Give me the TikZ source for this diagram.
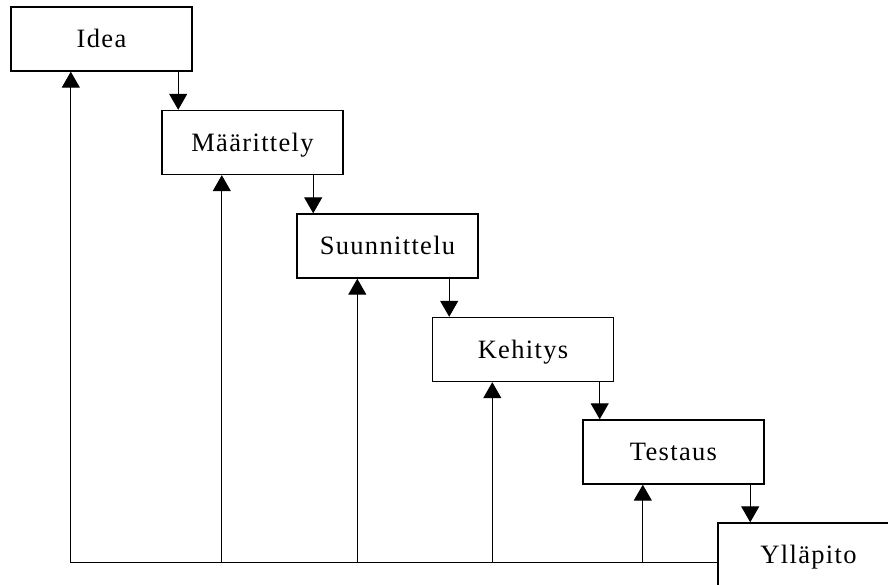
\documentclass[tikz,border=0pt]{standalone}
\usepackage{fontspec}
\setmainfont{Liberation Serif}[LetterSpace=5]
\usetikzlibrary{arrows.meta}
\tikzset{
  phase/.style={draw, line width=1.4pt, rectangle, inner sep=0pt,
    minimum width=181pt, minimum height=64pt,
    font=\fontsize{26.5}{30}\selectfont, text height=17.5pt, text depth=-3pt},
  flow/.style={line width=1.2pt, -{Triangle[width=18pt,length=16pt]}},
  back/.style={line width=1.2pt}
}
\begin{document}
\begin{tikzpicture}[x=1pt,y=-1pt]
\clip (0,0) rectangle (888,585);
\useasboundingbox (0,0) rectangle (888,585);

% phases of the cycle
\node[phase] (idea) at (101.5,39)  {Idea};
\node[phase] (maar) at (252.5,142.5) {Määrittely};
\node[phase] (suun) at (387.5,246) {Suunnittelu};
\node[phase] (kehi) at (523,349.5) {Kehitys};
\node[phase] (test) at (673.5,452) {Testaus};
\node[phase] (yllp) at (808.5,555) {Ylläpito};

% downward flow between consecutive phases
\draw[flow] ([xshift=-14.5pt]idea.south east) coordinate (d1) -- (d1 |- maar.north);
\draw[flow] ([xshift=-30.5pt]maar.south east) coordinate (d2) -- (d2 |- suun.north);
\draw[flow] ([xshift=-29.5pt]suun.south east) coordinate (d3) -- (d3 |- kehi.north);
\draw[flow] ([xshift=-14.5pt]kehi.south east) coordinate (d4) -- (d4 |- test.north);
\draw[flow] ([xshift=-14.5pt]test.south east) coordinate (d5) -- (d5 |- yllp.north);

% feedback line along the bottom
\coordinate (base) at (0,562.5);
\coordinate (u1) at ([xshift=60.5pt]idea.south west);
\coordinate (u2) at ([xshift=60.5pt]maar.south west);
\coordinate (u3) at ([xshift=61pt]suun.south west);
\coordinate (u4) at ([xshift=60.5pt]kehi.south west);
\coordinate (u5) at ([xshift=60.5pt]test.south west);
\draw[back] (yllp.west |- base) -- (u1 |- base);
\draw[flow] (u1 |- base) -- (u1);
\draw[flow] (u2 |- base) -- (u2);
\draw[flow] (u3 |- base) -- (u3);
\draw[flow] (u4 |- base) -- (u4);
\draw[flow] (u5 |- base) -- (u5);
\end{tikzpicture}
\end{document}
